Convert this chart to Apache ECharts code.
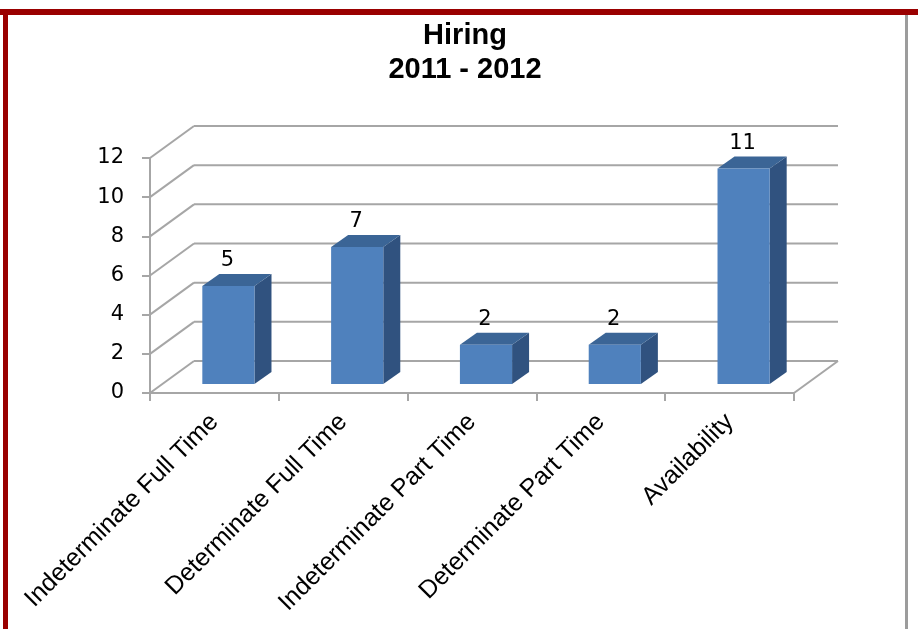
<!DOCTYPE html>
<html>
<head>
<meta charset="utf-8">
<title>Hiring 2011 - 2012</title>
<script src="https://cdn.jsdelivr.net/npm/echarts@6/dist/echarts.min.js"></script>
<style>
  html, body { margin: 0; padding: 0; background: #ffffff; }
  #chart { width: 918px; height: 629px; }
</style>
</head>
<body>
<div id="chart"></div>
<script>
// Hiring counts per position type
const categories = [
  'Indeterminate Full Time',
  'Determinate Full Time',
  'Indeterminate Part Time',
  'Determinate Part Time',
  'Availability'
];
const hires = [5, 7, 2, 2, 11];
const yTicks = [0, 2, 4, 6, 8, 10, 12];

// Oblique depth used to fake the 3D box (back wall offset) and the bar prisms
const WALL_DX = 44, WALL_DY = -32;
const BAR_FRONT_DX = 14, BAR_FRONT_DY = -9;
const BAR_DEPTH_DX = 17, BAR_DEPTH_DY = -12;

const GRID_COLOR = '#a6a6a6';
const BAR_FRONT = '#4f81bd';
const BAR_TOP = '#3b6596';
const BAR_SIDE = '#30527f';

const chart = echarts.init(document.getElementById('chart'), null, { renderer: 'canvas' });

// Back wall gridlines, left wall diagonals and the floor outline
function renderWalls(params, api) {
  const cs = params.coordSys;
  const v = api.value(1);
  const y = api.coord([0, v])[1];
  const left = cs.x, right = cs.x + cs.width;
  const style = { stroke: GRID_COLOR, lineWidth: 2 };
  const children = [
    { type: 'line', shape: { x1: left, y1: y, x2: left + WALL_DX, y2: y + WALL_DY }, style },
    { type: 'line', shape: { x1: left + WALL_DX, y1: y + WALL_DY, x2: right + WALL_DX, y2: y + WALL_DY }, style }
  ];
  if (v === 0) {
    children.push({ type: 'line', shape: { x1: right, y1: y, x2: right + WALL_DX, y2: y + WALL_DY }, style });
  }
  return { type: 'group', children };
}

// 3D-looking bar: front face, right side, top face and value label
function renderBar(params, api) {
  const idx = api.value(0);
  const v = api.value(1);
  const topPt = api.coord([idx, v]);
  const basePt = api.coord([idx, 0]);
  const w = api.size([1, 0])[0] * 0.405;
  const fx = topPt[0] - w / 2 + BAR_FRONT_DX;
  const top = topPt[1] + BAR_FRONT_DY;
  const bottom = basePt[1] + BAR_FRONT_DY;
  const dx = BAR_DEPTH_DX, dy = BAR_DEPTH_DY;
  return {
    type: 'group',
    children: [
      {
        type: 'polygon',
        shape: { points: [[fx + w, top], [fx + w + dx, top + dy], [fx + w + dx, bottom + dy], [fx + w, bottom]] },
        style: { fill: BAR_SIDE }
      },
      {
        type: 'polygon',
        shape: { points: [[fx, top], [fx + dx, top + dy], [fx + w + dx, top + dy], [fx + w, top]] },
        style: { fill: BAR_TOP }
      },
      {
        type: 'rect',
        shape: { x: fx, y: top, width: w, height: bottom - top },
        style: { fill: BAR_FRONT }
      },
      {
        type: 'text',
        x: fx + w / 2 - 1,
        y: top + dy - 3,
        style: {
          text: String(v),
          fill: '#000000',
          font: '21px "DejaVu Sans"',
          align: 'center',
          verticalAlign: 'bottom'
        }
      }
    ]
  };
}

const option = {
  backgroundColor: '#ffffff',
  animation: false,
  title: {
    text: 'Hiring\n2011 - 2012',
    left: 465,
    top: 19,
    padding: 0,
    textAlign: 'center',
    textStyle: {
      fontFamily: '"Liberation Sans", Arial, sans-serif',
      fontSize: 29,
      fontWeight: 'bold',
      lineHeight: 34,
      color: '#000000'
    }
  },
  grid: { left: 150, top: 158, right: 124, bottom: 236, containLabel: false },
  xAxis: {
    type: 'category',
    data: categories,
    boundaryGap: true,
    axisLine: { show: true, lineStyle: { color: GRID_COLOR, width: 2 } },
    axisTick: { show: true, length: 8, interval: 0, lineStyle: { color: GRID_COLOR, width: 2 } },
    axisLabel: {
      interval: 0,
      rotate: 45,
      margin: 25,
      color: '#000000',
      fontFamily: '"Liberation Sans", Arial, sans-serif',
      fontSize: 25
    },
    splitLine: { show: false }
  },
  yAxis: {
    type: 'value',
    min: 0,
    max: 12,
    interval: 2,
    axisLine: { show: true, lineStyle: { color: GRID_COLOR, width: 2 } },
    axisTick: { show: true, length: 8, lineStyle: { color: GRID_COLOR, width: 2 } },
    axisLabel: {
      margin: 26,
      padding: [4, 0, 0, 0],
      color: '#000000',
      fontFamily: '"DejaVu Sans", sans-serif',
      fontSize: 21
    },
    splitLine: { show: false }
  },
  graphic: [
    // dark red frame on top and left, thin grey edge on the right
    { type: 'rect', left: 0, top: 9, shape: { width: 918, height: 6 }, style: { fill: '#9a0000' }, z: 10 },
    { type: 'rect', left: 3, top: 9, shape: { width: 5, height: 620 }, style: { fill: '#9a0000' }, z: 10 },
    { type: 'rect', left: 905, top: 15, shape: { width: 3, height: 614 }, style: { fill: '#9c9c9c' }, z: 10 }
  ],
  series: [
    {
      type: 'custom',
      name: 'walls',
      z: 1,
      silent: true,
      clip: false,
      renderItem: renderWalls,
      data: yTicks.map(t => [0, t])
    },
    {
      type: 'custom',
      name: 'Hiring',
      z: 3,
      clip: false,
      renderItem: renderBar,
      data: hires.map((v, i) => [i, v])
    }
  ]
};

chart.setOption(option);
</script>
</body>
</html>
